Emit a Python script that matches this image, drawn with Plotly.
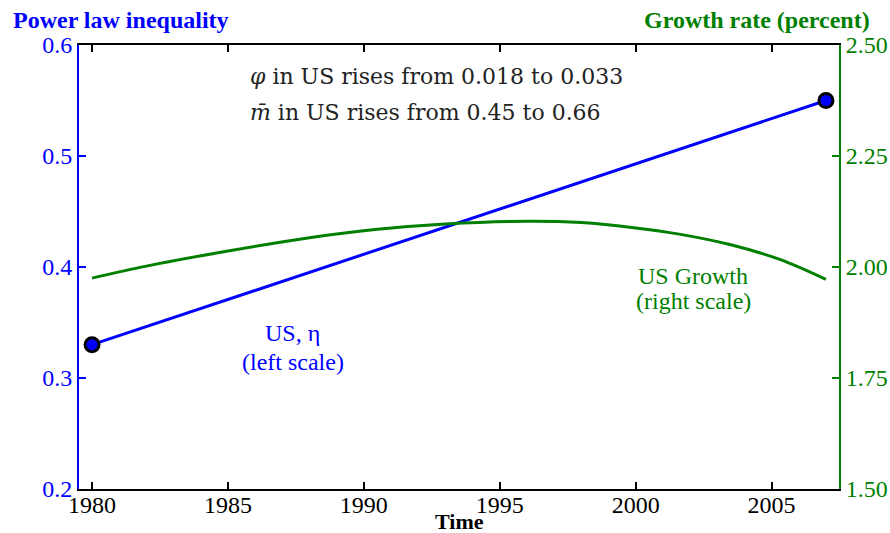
import plotly.graph_objects as go

# Data
years_eta = [1980, 2007]
eta_us = [0.33, 0.55]

years_growth = [1980, 1982, 1985, 1988, 1990.5, 1993, 1996, 1998, 2000, 2001.6, 2003.5, 2005.3, 2007]
growth_us = [1.975, 2.002, 2.036, 2.066, 2.085, 2.097, 2.103, 2.100, 2.088, 2.074, 2.050, 2.017, 1.972]

left_ticks = [0.2, 0.3, 0.4, 0.5, 0.6]
right_ticks = [1.50, 1.75, 2.00, 2.25, 2.50]
x_ticks = [1980, 1985, 1990, 1995, 2000, 2005]

BLUE = "#0000FF"
GREEN = "#007F00"
FONT = "Liberation Serif"

fig = go.Figure()
fig.add_trace(go.Scatter(
    x=years_growth, y=growth_us, yaxis="y2", mode="lines",
    line=dict(color=GREEN, width=3, shape="spline", smoothing=1.0),
    showlegend=False, hoverinfo="skip"))
fig.add_trace(go.Scatter(
    x=years_eta, y=eta_us, mode="lines+markers",
    line=dict(color=BLUE, width=3),
    marker=dict(color=BLUE, size=14, line=dict(color="black", width=3)),
    showlegend=False, hoverinfo="skip"))

fig.update_layout(
    width=890, height=533,
    margin=dict(l=79, r=51, t=45, b=44),
    paper_bgcolor="white", plot_bgcolor="white",
    font=dict(family=FONT, size=24, color="black"),
    xaxis=dict(range=[1979.52, 2007.48], tickvals=x_ticks, ticks="inside", ticklen=7,
               tickwidth=2, tickcolor="black", showline=True, linecolor="black", linewidth=2,
               mirror="ticks", showgrid=False, zeroline=False, automargin=False,
               ticklabelstandoff=-7,
               tickfont=dict(family=FONT, size=24, color="black")),
    yaxis=dict(range=[0.2, 0.6], tickvals=left_ticks, ticktext=[f"{v:g}" for v in left_ticks],
               ticks="inside", ticklen=7, tickwidth=2, tickcolor=BLUE, showline=True,
               linecolor=BLUE, linewidth=2, showgrid=False, zeroline=False, automargin=False,
               tickfont=dict(family=FONT, size=24, color=BLUE)),
    yaxis2=dict(range=[1.5, 2.5], tickvals=right_ticks, ticktext=[f"{v:.2f}" for v in right_ticks],
                overlaying="y", side="right", ticks="inside", ticklen=7, tickwidth=2,
                tickcolor=GREEN, showline=True, linecolor=GREEN, linewidth=2,
                showgrid=False, zeroline=False, automargin=False,
                tickfont=dict(family=FONT, size=24, color=GREEN)),
)

ann = [
    dict(text="<b>Power law inequality</b>", x=-0.089, y=1.056, xanchor="left",
         font=dict(color=BLUE, size=24)),
    dict(text="<b>Growth rate (percent)</b>", x=1.043, y=1.056, xanchor="right",
         font=dict(color=GREEN, size=24)),
    dict(text="<b>Time</b>", x=0.5, y=-0.074, xanchor="center",
         font=dict(color="black", size=22)),
    dict(text="<i>φ</i> in US rises from 0.018 to 0.033", x=0.223, y=0.928, xanchor="left",
         font=dict(color="#222222", size=22, family="DejaVu Serif")),
    dict(text="<i>m̄</i> in US rises from 0.45 to 0.66", x=0.223, y=0.849, xanchor="left",
         font=dict(color="#222222", size=22, family="DejaVu Serif")),
    dict(text="US, η", x=0.281, y=0.351, xanchor="center", font=dict(color=BLUE, size=24)),
    dict(text="(left scale)", x=0.281, y=0.286, xanchor="center", font=dict(color=BLUE, size=24)),
    dict(text="US Growth", x=0.808, y=0.48, xanchor="center", font=dict(color=GREEN, size=24)),
    dict(text="(right scale)", x=0.808, y=0.423, xanchor="center", font=dict(color=GREEN, size=24)),
]
for a in ann:
    a.update(showarrow=False, xref="paper", yref="paper", yanchor="middle")
    fig.add_annotation(**a)

fig.write_html("out.html", config={"displayModeBar": False},
               post_script="document.body.style.margin='0';document.body.style.padding='0';")
